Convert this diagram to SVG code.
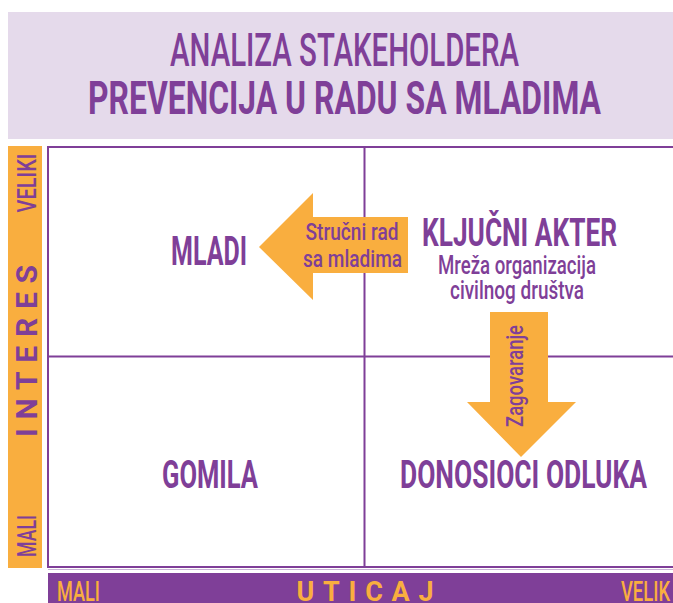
<svg xmlns="http://www.w3.org/2000/svg" width="673" height="603" viewBox="0 0 673 603">
<style>
  text { font-family: Roboto, "Liberation Sans", sans-serif; fill: #7f3f98; font-weight: 500; }
  .b { font-weight: bold; }
  .o { fill: #f9ae3f; }
  .ln { stroke: #7f3f98; stroke-width: 2; fill: none; }
  .arrow { fill: #f9ae3f; }
</style>
<rect width="673" height="603" fill="#ffffff"/>
<g id="title">
  <rect x="8" y="12" width="665" height="127" fill="#e5daeb"/>
  <text x="344.5" y="66" font-size="47" text-anchor="middle" textLength="349" lengthAdjust="spacingAndGlyphs">ANALIZA STAKEHOLDERA</text>
  <text class="b" x="344.5" y="114" font-size="47" text-anchor="middle" textLength="513" lengthAdjust="spacingAndGlyphs">PREVENCIJA U RADU SA MLADIMA</text>
</g>
<g id="axis-interes">
  <rect x="8" y="146" width="34" height="422" fill="#f9ae3f"/>
  <text transform="translate(36,183) rotate(-90)" font-size="26" text-anchor="middle" textLength="59" lengthAdjust="spacingAndGlyphs">VELIKI</text>
  <text class="b" transform="translate(37,351) rotate(-90)" font-size="30" text-anchor="middle" textLength="172" lengthAdjust="spacing">INTERES</text>
  <text transform="translate(36,536) rotate(-90)" font-size="26" text-anchor="middle" textLength="42" lengthAdjust="spacingAndGlyphs">MALI</text>
</g>
<g id="axis-uticaj">
  <rect x="48" y="573" width="625" height="30" fill="#7f3f98"/>
  <text class="o" x="57" y="601" font-size="27" textLength="43" lengthAdjust="spacingAndGlyphs">MALI</text>
  <text class="o b" x="365" y="601" font-size="27" text-anchor="middle" textLength="137" lengthAdjust="spacing">UTICAJ</text>
  <text class="o" x="621" y="601" font-size="27" textLength="49" lengthAdjust="spacingAndGlyphs">VELIK</text>
</g>
<g id="grid">
  <rect class="ln" x="48" y="147" width="640" height="420"/>
  <line class="ln" x1="364.5" y1="147" x2="364.5" y2="567"/>
  <line class="ln" x1="48" y1="356.5" x2="673" y2="356.5"/>
  <line x1="48" y1="569.5" x2="673" y2="569.5" stroke="#c9b3d6" stroke-width="1"/>
</g>
<g id="connectors">
  <g id="arrow-strucni-rad">
    <polygon class="arrow" points="259,247 313,193 313,217 408,217 408,273 313,273 313,300"/>
    <text x="352" y="240" font-size="24" text-anchor="middle" textLength="93" lengthAdjust="spacingAndGlyphs">Stručni rad</text>
    <text x="352.5" y="267" font-size="24" text-anchor="middle" textLength="99" lengthAdjust="spacingAndGlyphs">sa mladima</text>
  </g>
  <g id="arrow-zagovaranje">
    <polygon class="arrow" points="490,312 548,312 548,402 576,402 521,457 467,402 490,402"/>
    <text transform="translate(523,376) rotate(-90)" font-size="24" text-anchor="middle" textLength="102" lengthAdjust="spacingAndGlyphs">Zagovaranje</text>
  </g>
</g>
<g id="node-mladi">
  <text class="b" x="209" y="265" font-size="40" text-anchor="middle" textLength="76" lengthAdjust="spacingAndGlyphs">MLADI</text>
</g>
<g id="node-kljucni-akter">
  <text class="b" x="519.5" y="246" font-size="39" text-anchor="middle" textLength="195" lengthAdjust="spacingAndGlyphs">KLJUČNI AKTER</text>
  <text x="517" y="274" font-size="26" text-anchor="middle" textLength="158" lengthAdjust="spacingAndGlyphs">Mreža organizacija</text>
  <text x="517" y="299" font-size="26" text-anchor="middle" textLength="134" lengthAdjust="spacingAndGlyphs">civilnog društva</text>
</g>
<g id="node-gomila">
  <text class="b" x="210" y="488" font-size="39" text-anchor="middle" textLength="96" lengthAdjust="spacingAndGlyphs">GOMILA</text>
</g>
<g id="node-donosioci-odluka">
  <text class="b" x="523.5" y="488" font-size="39" text-anchor="middle" textLength="247" lengthAdjust="spacingAndGlyphs">DONOSIOCI ODLUKA</text>
</g>
</svg>
